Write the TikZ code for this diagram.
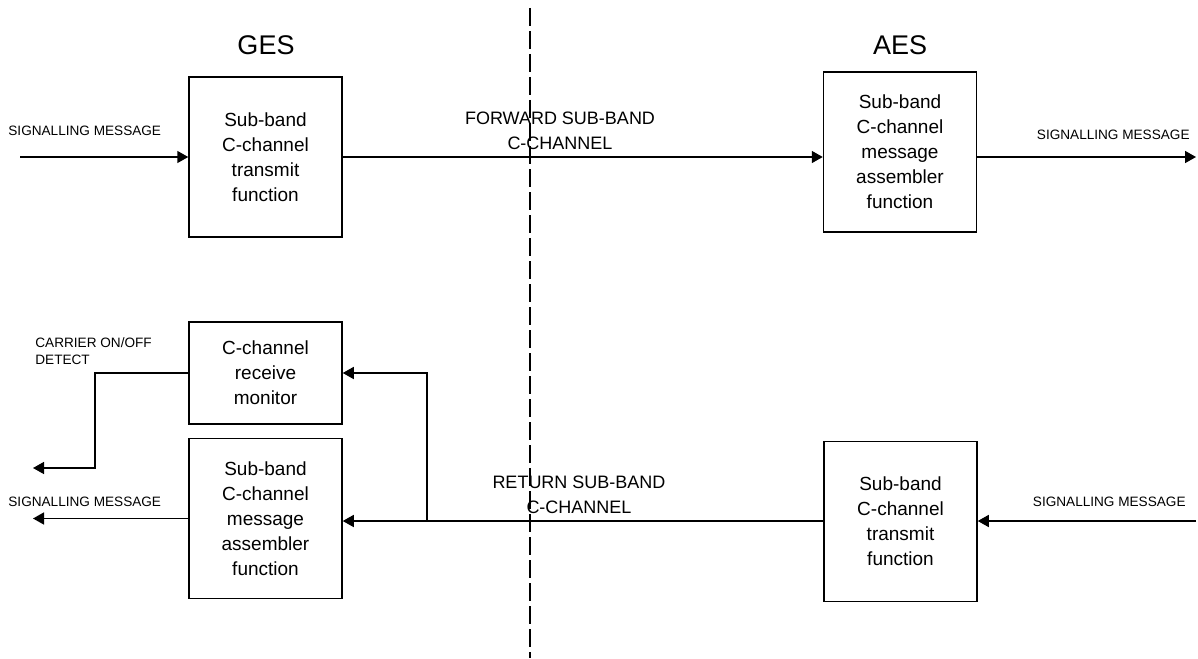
\documentclass[tikz,border=0pt]{standalone}
\usepackage{fontspec}
\setmainfont{Liberation Sans}
\usepackage{tikz}
\usetikzlibrary{positioning, arrows, arrows.meta}

\begin{document}
\begin{tikzpicture}[x=0.5pt, y=-0.5pt,
  block/.style={draw, line width=0.75pt, minimum width=76.5pt, minimum height=80pt,
    align=center, inner sep=0pt, font=\fontsize{9.5}{12.5}\selectfont},
  lbl/.style={inner sep=0pt, font=\fontsize{6.8}{8.5}\selectfont},
  chan/.style={inner sep=0pt, align=center, font=\fontsize{9}{12.5}\selectfont},
  station/.style={inner sep=0pt, font=\fontsize{13.5}{16}\selectfont},
  sig/.style={line width=0.75pt, -{Triangle[length=5.5pt, width=6pt]}}]
\useasboundingbox (0,0) rectangle (1198,658);

% --- Station titles ---
\node[station] (ges) at (266,45) {GES};
\node[station] (aes) at (900,45) {AES};

% --- Forward direction ---
\node[block] (gtx) at (265.5,157) {Sub-band\\C-channel\\transmit\\function};
\node[block] (aasm) at (900,152) {Sub-band\\C-channel\\message\\assembler\\function};
\coordinate (gin) at (20,157);
\coordinate (aout) at (1196,157);
\draw[sig] (gin) -- (gtx);
\draw[sig] (gtx.east) -- (aasm.west |- gtx.east);
\draw[sig] (aasm.east |- aout) -- (aout);
\node[lbl, anchor=west] (gin lbl) at (8,131) {SIGNALLING MESSAGE};
\node[lbl, anchor=east] (aout lbl) at (1190,135) {SIGNALLING MESSAGE};
\node[chan] (fwd) at (560,130.5) {FORWARD SUB-BAND\\C-CHANNEL};

% --- Return direction ---
\node[block, minimum height=51pt] (gmon) at (265.5,373) {C-channel\\receive\\monitor};
\node[block] (gasm) at (265.5,518.5) {Sub-band\\C-channel\\message\\assembler\\function};
\node[block] (atx) at (900.5,521.5) {Sub-band\\C-channel\\transmit\\function};
\coordinate (ain) at (1196,521);
\coordinate (tap) at (427,521);
\coordinate (bend) at (95,468);
\coordinate (cdet) at (33,468);
\coordinate (gout) at (33,518.5);
\draw[sig] (ain) -- (atx.east |- ain);
\draw[sig] (atx.west |- ain) -- (gasm.east |- ain);
\draw[sig] (tap) |- (gmon.east);
\draw[sig] (gmon.west) -| (bend) -- (cdet);
\draw[sig] (gasm.west) -- (gout);
\node[lbl, anchor=west, align=left] (cdet lbl) at (35,351.5) {CARRIER ON/OFF\\DETECT};
\node[lbl, anchor=west] (gout lbl) at (8,502) {SIGNALLING MESSAGE};
\node[lbl, anchor=east] (ain lbl) at (1186,502) {SIGNALLING MESSAGE};
\node[chan] (ret) at (579,494.5) {RETURN SUB-BAND\\C-CHANNEL};

% --- Boundary between the two stations ---
\coordinate (cut top) at (530,8);
\coordinate (cut bot) at (530,658);
\draw[line width=1.2pt, dash pattern=on 9pt off 2.5pt] (cut top) -- (cut bot);
\end{tikzpicture}
\end{document}
